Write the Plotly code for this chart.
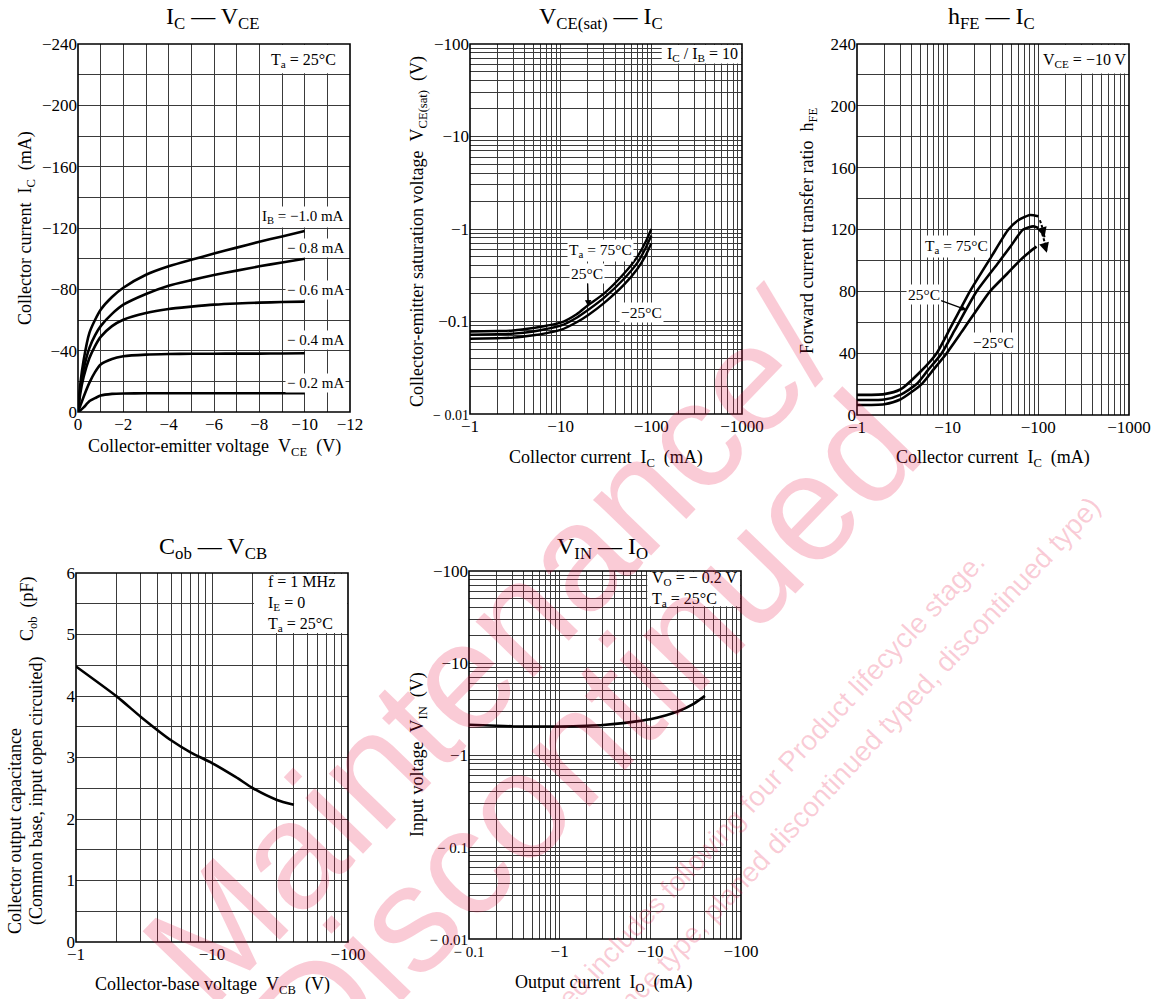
import numpy as np
import plotly.graph_objects as go

W, H = 1161, 999
SERIF = "Liberation Serif, Times New Roman, serif"
SANS = "Liberation Sans, Arial, sans-serif"
GRID = "#3a3a3a"
NB = "\u00a0"

# ---------------- data ----------------
# IC - VCE (magnitudes; V, mA)
vce = [0, 0.1, 0.25, 0.5, 0.75, 1, 1.5, 2, 3, 4, 5, 6, 7, 8, 9, 10]
ic_ib_10 = [0, 18, 34, 51.5, 60, 66.7, 75, 81, 89.5, 95, 99.3, 103.3, 107.2, 111, 114.5, 118]
ic_ib_08 = [0, 15, 28, 41.7, 50, 56, 64, 70, 77, 82.4, 86.0, 89.3, 92.2, 95, 97.5, 100]
ic_ib_06 = [0, 12, 23, 35, 43, 49, 56, 60.2, 64.6, 67.2, 68.7, 70, 70.8, 71.3, 71.7, 72]
ic_ib_04 = [0, 4, 10, 19, 26, 31, 34.6, 36.3, 37.4, 37.8, 38, 38, 38.1, 38.1, 38.2, 38.3]
ic_ib_02 = [0, 1, 3, 7, 9, 10.7, 11.8, 12.1, 12.2, 12.2, 12.2, 12.2, 12.2, 12.2, 12.2, 12.2]
ib_labels = ["I<sub>B</sub> = \u22121.0 mA", "\u2212 0.8 mA", "\u2212 0.6 mA", "\u2212 0.4 mA", "\u2212 0.2 mA"]

# VCE(sat) - IC
ic_sat = [1, 2, 3, 5, 7, 10, 15, 20, 30, 50, 70, 85, 100]
vsat_75 = [0.078, 0.079, 0.080, 0.085, 0.090, 0.097, 0.12, 0.15, 0.20, 0.33, 0.50, 0.70, 1.0]
vsat_25 = [0.072, 0.073, 0.074, 0.078, 0.083, 0.090, 0.110, 0.133, 0.18, 0.29, 0.43, 0.60, 0.85]
vsat_m25 = [0.065, 0.066, 0.067, 0.071, 0.075, 0.081, 0.098, 0.117, 0.158, 0.25, 0.37, 0.50, 0.70]

# hFE - IC
ic_h75 = [1, 2, 3, 5, 7.57, 10, 17.6, 30, 46.7, 60, 81, 100]
hfe_75 = [13, 13.5, 16.5, 28, 40, 53, 80, 102, 120, 126, 129.4, 128.5]
ic_h25 = [1, 2, 3, 4.55, 6, 8.6, 12, 20.9, 35, 50, 68, 88, 100]
hfe_25 = [9.7, 10, 13, 20, 28.7, 40, 55, 80, 97.4, 109.5, 120, 122, 121]
ic_hm25 = [1, 2, 3, 5.17, 7, 9.75, 15, 29.3, 45, 62.8, 80, 95.6]
hfe_m25 = [6.5, 7, 10, 20, 29.5, 40, 55.6, 80, 91.2, 100, 105.5, 108.9]
dash_a_ic = [104, 111, 117]
dash_a_h = [126, 121, 115]
dash_b_ic = [110, 117, 124]
dash_b_h = [117.5, 112, 105]

# Cob - VCB
vcb = [1, 2, 3, 5, 7, 10, 15, 20, 30, 40]
cob = [4.48, 3.99, 3.66, 3.28, 3.08, 2.91, 2.68, 2.50, 2.31, 2.23]

# VIN - IO
io = [0.1, 0.2, 0.3, 0.5, 1, 2, 3, 5, 7, 10, 15, 20, 30, 40]
vin = [2.13, 2.08, 2.05, 2.04, 2.04, 2.08, 2.12, 2.22, 2.32, 2.45, 2.7, 2.97, 3.6, 4.39]

# tick labels
t1x_vals = [0, 2, 4, 6, 8, 10, 12]
t1x_text = ["0", "\u22122", "\u22124", "\u22126", "\u22128", "\u221210", "\u221212"]
t1y_vals = [0, 40, 80, 120, 160, 200, 240]
t1y_text = ["0", "\u221240", "\u221280", "\u2212120", "\u2212160", "\u2212200", "\u2212240"]
t_ic_vals = [1, 10, 100, 1000]
t_ic_text = ["\u22121", "\u221210", "\u2212100", "\u22121000"]
t2y_vals = [0.01, 0.1, 1, 10, 100]
t2y_text = ["<span style='font-size:14px'>\u2212 0.01</span>", "\u22120.1", "\u22121", "\u221210", "\u2212100"]
t3y_vals = [0, 40, 80, 120, 160, 200, 240]
t3y_text = ["0", "40", "80", "120", "160", "200", "240"]
t4x_vals = [1, 10, 100]
t4x_text = ["\u22121", "\u221210", "\u2212100"]
t4y_vals = [0, 1, 2, 3, 4, 5, 6]
t4y_text = ["0", "1", "2", "3", "4", "5", "6"]
t5x_vals = [0.1, 1, 10, 100]
t5x_text = ["<span style='font-size:15px'>\u2212 0.1</span>", "\u22121", "\u221210", "\u2212100"]
t5y_vals = [0.01, 0.1, 1, 10, 100]
t5y_text = ["<span style='font-size:15px'>\u2212 0.01</span>", "<span style='font-size:15px'>\u2212 0.1</span>", "\u22121", "\u221210", "\u2212100"]


def minor_log(d0, d1):
    return [k * 10.0 ** d for d in range(d0, d1) for k in range(2, 10)]


def dom_x(x0, x1):
    return [x0 / W, x1 / W]


def dom_y(y0, y1):
    return [1 - y1 / H, 1 - y0 / H]


def P(x, y):
    return x / W, 1 - y / H


common = dict(showline=False, zeroline=False, ticks="", showgrid=True, gridcolor=GRID, gridwidth=1,
              tickfont=dict(family=SERIF, size=17, color="black"), fixedrange=True, tickmode="array",
              automargin=False)


def lin_minor(d):
    return dict(tick0=0, dtick=d, showgrid=True, gridcolor=GRID, gridwidth=1)


def log_minor(vals):
    return dict(tickmode="array", tickvals=vals, showgrid=True, gridcolor=GRID, gridwidth=1)


fig = go.Figure()
LW = 2.6
line = dict(color="black", width=LW, shape="spline", smoothing=0.6)

for ys in [ic_ib_10, ic_ib_08, ic_ib_06, ic_ib_04, ic_ib_02]:
    fig.add_trace(go.Scatter(x=vce, y=ys, mode="lines", line=line, xaxis="x", yaxis="y", hoverinfo="skip"))
for ys in [vsat_75, vsat_25, vsat_m25]:
    fig.add_trace(go.Scatter(x=ic_sat, y=ys, mode="lines", line=dict(color="black", width=2.4, shape="spline", smoothing=0.8),
                             xaxis="x2", yaxis="y2", hoverinfo="skip"))
for xs, ys in [(ic_h75, hfe_75), (ic_h25, hfe_25), (ic_hm25, hfe_m25)]:
    fig.add_trace(go.Scatter(x=xs, y=ys, mode="lines", line=line, xaxis="x3", yaxis="y3", hoverinfo="skip"))
for xs, ys in [(dash_a_ic, dash_a_h), (dash_b_ic, dash_b_h)]:
    fig.add_trace(go.Scatter(x=xs, y=ys, mode="lines", line=dict(color="black", width=2, dash="3px,2px", shape="spline"),
                             xaxis="x3", yaxis="y3", hoverinfo="skip"))
fig.add_trace(go.Scatter(x=vcb, y=cob, mode="lines", line=line, xaxis="x4", yaxis="y4", hoverinfo="skip"))
fig.add_trace(go.Scatter(x=io, y=vin, mode="lines", line=line, xaxis="x5", yaxis="y5", hoverinfo="skip"))

fig.update_layout(
    width=W, height=H, margin=dict(l=0, r=0, t=0, b=0, pad=0, autoexpand=False),
    paper_bgcolor="white", plot_bgcolor="white", showlegend=False,
    xaxis=dict(domain=dom_x(78, 350), range=[0, 12], tickvals=t1x_vals, ticktext=t1x_text, minor=lin_minor(1), anchor="y", **common),
    yaxis=dict(domain=dom_y(44, 412), range=[0, 240], tickvals=t1y_vals, ticktext=t1y_text, minor=lin_minor(20), anchor="x", **common),
    xaxis2=dict(domain=dom_x(470, 742), type="log", range=[0, 3], tickvals=t_ic_vals, ticktext=t_ic_text, minor=log_minor(minor_log(0, 3)), anchor="y2", **common),
    yaxis2=dict(domain=dom_y(44, 414), type="log", range=[-2, 2], tickvals=t2y_vals, ticktext=t2y_text, minor=log_minor(minor_log(-2, 2)), anchor="x2", **common),
    xaxis3=dict(domain=dom_x(857, 1129), type="log", range=[0, 3], tickvals=t_ic_vals, ticktext=t_ic_text, minor=log_minor(minor_log(0, 3)), anchor="y3", **common),
    yaxis3=dict(domain=dom_y(44, 415), range=[0, 240], tickvals=t3y_vals, ticktext=t3y_text, minor=lin_minor(20), anchor="x3", **common),
    xaxis4=dict(domain=dom_x(76, 348), type="log", range=[0, 2], tickvals=t4x_vals, ticktext=t4x_text, minor=log_minor(minor_log(0, 2)), anchor="y4", **common),
    yaxis4=dict(domain=dom_y(573, 942), range=[0, 6], tickvals=t4y_vals, ticktext=t4y_text, minor=lin_minor(0.5), anchor="x4", **common),
    xaxis5=dict(domain=dom_x(469, 741), type="log", range=[-1, 2], tickvals=t5x_vals, ticktext=t5x_text, minor=log_minor(minor_log(-1, 2)), anchor="y5", **common),
    yaxis5=dict(domain=dom_y(571, 939), type="log", range=[-2, 2], tickvals=t5y_vals, ticktext=t5y_text, minor=log_minor(minor_log(-2, 2)), anchor="x5", **common),
)

shapes = []
# white condition boxes (x0, y0 in axis-domain fractions)
boxes = [("x", "y", 8 / 12 + 0.004, 220 / 240 + 0.004),
         ("x2", "y2", np.log10(130) / 3, (np.log10(60) + 2) / 4 + 0.003),
         ("x3", "y3", 2 / 3 + 0.004, 220 / 240 + 0.004),
         ("x4", "y4", np.log10(20) / 2 + 0.004, 5 / 6 + 0.004),
         ("x5", "y5", (np.log10(9) + 1) / 3 + 0.004, (np.log10(40) + 2) / 4 + 0.004)]
for xa, ya, x0, y0 in boxes:
    shapes.append(dict(type="rect", xref=f"{xa} domain", yref=f"{ya} domain", x0=x0, x1=0.998, y0=y0, y1=0.998,
                       fillcolor="white", line=dict(width=0), layer="above"))
for xa, ya in [("x", "y"), ("x2", "y2"), ("x3", "y3"), ("x4", "y4"), ("x5", "y5")]:
    shapes.append(dict(type="rect", xref=f"{xa} domain", yref=f"{ya} domain", x0=0, x1=1, y0=0, y1=1,
                       fillcolor="rgba(0,0,0,0)", line=dict(color="black", width=1.6), layer="above"))
fig.update_layout(shapes=shapes)

ann = []


def txt(x, y, text, size=15, angle=0, xanchor="center", bg=None, align="center", family=SERIF, color="black"):
    px_, py_ = P(x, y)
    d = dict(x=px_, y=py_, xref="paper", yref="paper", text=text, showarrow=False, textangle=angle,
             xanchor=xanchor, yanchor="middle", align=align, font=dict(family=family, size=size, color=color))
    if bg:
        d["bgcolor"] = bg
    ann.append(d)


TS = 24   # chart titles
AS = 18   # axis titles
# titles
txt(213, 18, "I<sub>C</sub> \u2014 V<sub>CE</sub>", TS)
txt(601, 18, "V<sub>CE(sat)</sub> \u2014 I<sub>C</sub>", TS)
txt(991, 18, "h<sub>FE</sub> \u2014 I<sub>C</sub>", TS)
txt(213, 548, "C<sub>ob</sub> \u2014 V<sub>CB</sub>", TS)
txt(602, 548, "V<sub>IN</sub> \u2014 I<sub>O</sub>", TS)

# axis titles
txt(214, 447, "Collector-emitter voltage" + NB * 2 + "V<sub>CE</sub>" + NB * 2 + "(V)", AS)
txt(27, 228, "Collector current" + NB * 2 + "I<sub>C</sub>" + NB * 2 + "(mA)", AS, -90)
txt(606, 458, "Collector current" + NB * 2 + "I<sub>C</sub>" + NB * 2 + "(mA)", AS)
txt(419, 232, "Collector-emitter saturation voltage" + NB * 2 + "V<sub>CE(sat)</sub>" + NB * 2 + "(V)", AS, -90)
txt(993, 458, "Collector current" + NB * 2 + "I<sub>C</sub>" + NB * 2 + "(mA)", AS)
txt(808, 231, "Forward current transfer ratio" + NB * 2 + "h<sub>FE</sub>", AS, -90)
txt(212, 985, "Collector-base voltage" + NB * 2 + "V<sub>CB</sub>" + NB * 2 + "(V)", AS)
txt(15, 831, "Collector output capacitance", AS, -90)
txt(36, 791, "(Common base, input open circuited)", AS, -90)
txt(28, 609, "C<sub>ob</sub>" + NB * 2 + "(pF)", AS, -90)
txt(604, 983, "Output current" + NB * 2 + "I<sub>O</sub>" + NB * 2 + "(mA)", AS)
txt(418, 755, "Input voltage" + NB * 2 + "V<sub>IN</sub>" + NB * 2 + "(V)", AS, -90)

# condition boxes text
txt(303, 61, "T<sub>a</sub> = 25\u00b0C", 16)
txt(702, 55, "I<sub>C</sub> / I<sub>B</sub> = 10", 16)
txt(1085, 61, "V<sub>CE</sub> = \u221210 V", 16)
txt(266, 603, "f = 1 MHz<br>I<sub>E</sub> = 0<br>T<sub>a</sub> = 25\u00b0C", 16, xanchor="left", align="left")
txt(650, 589, "V<sub>O</sub> = \u2212 0.2 V<br>T<sub>a</sub> = 25\u00b0C", 16, xanchor="left", align="left")

# IB labels
for lab, yy in zip(ib_labels, [217, 248, 290, 340, 383]):
    txt(346, yy, lab, 15, xanchor="right", bg="white")

# VCE(sat) labels
txt(600, 250, "T<sub>a</sub> = 75\u00b0C", 15.5, bg="white")
txt(642, 312, "\u221225\u00b0C", 15.5, bg="white")
ann.append(dict(x=np.log10(20.2), y=np.log10(0.145), xref="x2", yref="y2", text="25\u00b0C", showarrow=True,
                ax=-1, ay=-33, arrowhead=2, arrowsize=1, arrowwidth=1.3, arrowcolor="black", bgcolor="white",
                font=dict(family=SERIF, size=15.5, color="black")))

# hFE labels
txt(956, 246, "T<sub>a</sub> = 75\u00b0C", 15.5, bg="white")
txt(993, 342, "\u221225\u00b0C", 15.5, bg="white")
ann.append(dict(x=np.log10(16.2), y=67.9, xref="x3", yref="y3", text="25\u00b0C", showarrow=True,
                ax=-43, ay=-16, arrowhead=2, arrowsize=1, arrowwidth=1.3, arrowcolor="black", bgcolor="white",
                font=dict(family=SERIF, size=15.5, color="black")))
for xs, ys in [(dash_a_ic, dash_a_h), (dash_b_ic, dash_b_h)]:
    ann.append(dict(x=np.log10(xs[-1]), y=ys[-1], xref="x3", yref="y3", text="", showarrow=True,
                    ax=-2, ay=-7, arrowhead=2, arrowsize=1, arrowwidth=2, arrowcolor="black"))

# watermark
WM = "rgba(232,20,70,0.22)"
txt(488, 648, "Maintenance/", 152, -46, family=SANS, color=WM)
txt(585, 735, "Discontinued", 152, -46, family=SANS, color=WM)
txt(669, 889, "Maintenance/Discontinued includes following four Product lifecycle stage.", 28, -47, family=SANS, color=WM)
txt(705, 919, "(planed maintenance type, maintenance type, planed discontinued typed, discontinued type)", 28, -47,
    family=SANS, color=WM)

fig.update_layout(annotations=ann)
fig.write_html("out.html", config={"displayModeBar": False, "staticPlot": True},
               post_script="document.body.style.margin='0px';document.body.style.overflow='hidden';")
